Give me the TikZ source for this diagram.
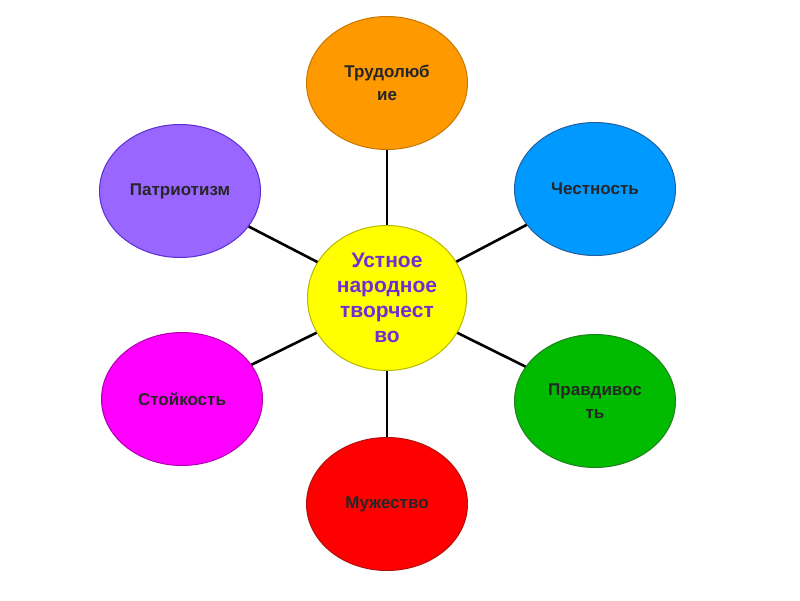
\documentclass[tikz,border=0pt]{standalone}
\usepackage{fontspec}
\setmainfont{Liberation Sans}
\usetikzlibrary{shapes.geometric}
\definecolor{cyel}{HTML}{FFFF00}
\definecolor{cyelb}{HTML}{B8B800}
\definecolor{ctxt}{HTML}{7030D0}
\definecolor{corg}{HTML}{FF9900}
\definecolor{corgb}{HTML}{C87800}
\definecolor{cblu}{HTML}{0099FF}
\definecolor{cblub}{HTML}{2060A0}
\definecolor{cpur}{HTML}{9966FF}
\definecolor{cpurb}{HTML}{5A2ED0}
\definecolor{cgrn}{HTML}{00BB00}
\definecolor{cgrnb}{HTML}{208020}
\definecolor{cred}{HTML}{FF0000}
\definecolor{credb}{HTML}{B01010}
\definecolor{cmag}{HTML}{FF00FF}
\definecolor{cmagb}{HTML}{B000B0}
\tikzset{
  sat/.style={ellipse, minimum width=161pt, minimum height=133pt, inner sep=0pt,
    draw, line width=1pt, align=center, text=black!85, font=\fontsize{17}{23}\selectfont\bfseries},
  hub/.style={ellipse, minimum width=159pt, minimum height=145pt, inner sep=0pt,
    draw=cyelb, fill=cyel, line width=1pt, align=center, text=ctxt,
    font=\fontsize{21}{25}\selectfont\bfseries},
  link/.style={line width=2.6pt, black}
}
\begin{document}
\begin{tikzpicture}[x=1pt,y=-1pt]
\fill[white] (0,0) rectangle (800,600);
\useasboundingbox (0,0) rectangle (800,600);
\node[hub] (c) at (387,298) {Устное\\народное\\творчест\\во};
\node[sat, fill=corg, draw=corgb] (t) at (387,83) {Трудолюб\\ие};
\node[sat, fill=cpur, draw=cpurb] (p) at (180,191) {Патриотизм};
\node[sat, fill=cblu, draw=cblub] (ch) at (595,189) {Честность};
\node[sat, fill=cmag, draw=cmagb] (s) at (182,399) {Стойкость};
\node[sat, fill=cgrn, draw=cgrnb] (pr) at (595,401) {Правдивос\\ть};
\node[sat, fill=cred, draw=credb] (m) at (387,504) {Мужество};
\draw[link] (c) -- (t);
\draw[link] (c) -- (p);
\draw[link] (c) -- (ch);
\draw[link] (c) -- (s);
\draw[link] (c) -- (pr);
\draw[link] (c) -- (m);
\end{tikzpicture}
\end{document}
